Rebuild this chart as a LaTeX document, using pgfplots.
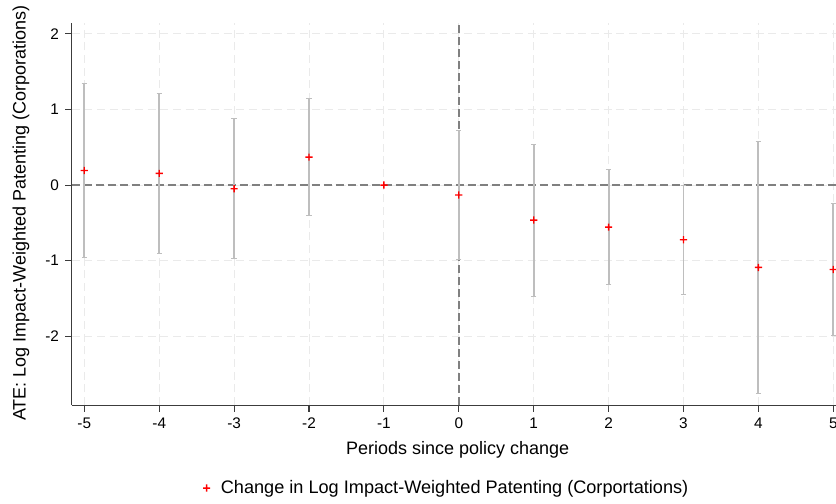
\documentclass[border=0pt]{standalone}
\usepackage{pgfplots}
\pgfplotsset{compat=1.18}
\usepackage{pgfplotstable}
\usepackage{fontspec}
\setmainfont{Liberation Sans}
\definecolor{errcol}{RGB}{190,190,190}
\definecolor{gridcol}{RGB}{234,234,234}
\definecolor{refcol}{RGB}{128,128,128}
\definecolor{axcol}{RGB}{60,60,60}
\definecolor{mkred}{RGB}{255,0,0}
\pgfdeclareplotmark{redplus}{%
  \pgfpathrectangle{\pgfpoint{-2.7pt}{-0.5pt}}{\pgfpoint{5.4pt}{1pt}}%
  \pgfpathrectangle{\pgfpoint{-0.5pt}{-2.7pt}}{\pgfpoint{1pt}{5.4pt}}%
  \pgfusepathqfill}

\pgfplotstableread{
x y hi lo
-5 0.194 1.345 -0.952
-4 0.155 1.208 -0.904
-3 -0.048 0.886 -0.970
-2 0.370 1.142 -0.406
0 -0.132 0.719 -0.983
1 -0.463 0.542 -1.468
2 -0.556 0.207 -1.319
3 -0.723 0.000 -1.451
4 -1.089 0.582 -2.761
5 -1.116 -0.238 -1.989
}\errdata

\pgfplotstableread{
x y
-5 0.194
-4 0.155
-3 -0.048
-2 0.370
-1 0.000
0 -0.132
1 -0.463
2 -0.556
3 -0.723
4 -1.089
5 -1.116
}\pointdata

\begin{document}
\begin{tikzpicture}
\useasboundingbox (-53.8pt,-73.5pt) rectangle (573.2pt,303.8pt);
\begin{axis}[
  at={(0,0)}, anchor=south west,
  scale only axis,
  width=573.2pt, height=286.3pt,
  xmin=-5.168, xmax=5.036,
  ymin=-2.91, ymax=2.14,
  xtick={-5,-4,...,5}, ytick={-2,-1,...,2},
  axis x line*=bottom, axis y line*=left,
  axis line style={-, draw=axcol, line width=0.8pt},
  tick align=outside,
  major tick length=5pt,
  tick style={draw=axcol, line width=0.8pt},
  /pgf/number format/assume math mode=true,
  ticklabel style={font=\fontsize{11.5pt}{13pt}\selectfont, text=black},
  xticklabel style={yshift=-1pt},
  yticklabel style={xshift=-1pt},
  grid=major,
  major grid style={draw=gridcol, line width=0.75pt, dash pattern=on 6pt off 3.5pt},
  xlabel={Periods since policy change},
  ylabel={ATE: Log Impact-Weighted Patenting (Corporations)},
  label style={font=\fontsize{13.5pt}{15pt}\selectfont},
  xlabel style={at={(axis description cs:0.505,-0.118)}, anchor=center},
  ylabel style={at={(axis description cs:-0.0663,0.503)}, anchor=center},
  legend style={at={(axis description cs:0.491,-0.2175)}, anchor=center, draw=none, fill=none,
    font=\fontsize{13.6pt}{15pt}\selectfont},
  legend cell align=left,
  clip=true,
]
\addplot[refcol, line width=1.1pt, dash pattern=on 6pt off 3pt, forget plot] coordinates {(-5.168,0) (5.036,0)};
\addplot[refcol, line width=1.1pt, dash pattern=on 6pt off 3pt, forget plot] coordinates {(0,-2.91) (0,2.14)};
\addplot[forget plot, draw=none, mark=none,
  error bars/.cd, y dir=both, y explicit,
  error bar style={draw=errcol, line width=1.4pt, solid},
  error mark options={rotate=90, mark size=2pt, draw=errcol, line width=0.8pt}]
  table[x=x, y=y, y error plus expr=\thisrow{hi}-\thisrow{y}, y error minus expr=\thisrow{y}-\thisrow{lo}] {\errdata};
\addplot[only marks, mark=redplus, draw=none, fill=mkred,
  mark options={fill=mkred, draw=none}]
  table[x=x, y=y] {\pointdata};
\addlegendentry{\hspace{6pt}Change in Log Impact-Weighted Patenting (Corportations)}
\end{axis}
\end{tikzpicture}
\end{document}
